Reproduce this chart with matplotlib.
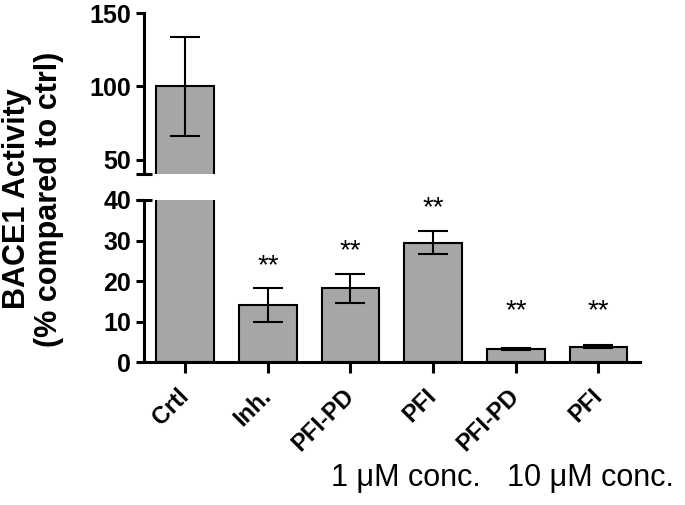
import matplotlib
matplotlib.use("Agg")
import matplotlib.pyplot as plt
import numpy as np

# data
groups = ["Crtl", "Inh.", "PFI-PD", "PFI", "PFI-PD", "PFI"]
activity = [100.0, 14.1, 18.2, 29.5, 3.2, 3.8]
sem = [34.0, 4.1, 3.6, 2.9, 0.25, 0.4]
significant = [False, True, True, True, True, True]
conc_labels = ["1 μM conc.", "10 μM conc."]

plt.rcParams["font.family"] = ["Liberation Sans", "DejaVu Sans"]
plt.rcParams["font.weight"] = "bold"

fig = plt.figure(figsize=(6.85, 5.05), dpi=100)
ax_top = fig.add_axes([0.210, 0.655, 0.724, 0.319])
ax_bot = fig.add_axes([0.210, 0.283, 0.724, 0.321])

x = np.arange(len(groups))
bar_kw = dict(width=0.7, color="#a6a6a6", edgecolor="black", linewidth=1.5, zorder=2)
err_kw = dict(fmt="none", ecolor="black", elinewidth=1.5, capsize=10.5, capthick=1.5, zorder=3)

for ax in (ax_top, ax_bot):
    ax.bar(x, activity, **bar_kw)
    ax.errorbar(x, activity, yerr=sem, **err_kw)
    ax.set_xlim(-0.5, 5.5)
    for s in ("top", "right"):
        ax.spines[s].set_visible(False)
    ax.spines["left"].set_linewidth(2.2)
    ax.spines["bottom"].set_linewidth(2.2)
    ax.tick_params(axis="y", direction="out", length=6, width=2.2, labelsize=18, pad=3)

# upper segment
ax_top.set_ylim(40, 150)
ax_top.set_yticks([50, 100, 150])
ax_top.spines["bottom"].set_visible(False)
ax_top.set_xticks([])
ax_top.plot([0], [40], transform=ax_top.get_yaxis_transform(), marker="_",
            ms=12, mew=2.2, color="black", clip_on=False)

# lower segment
ax_bot.set_ylim(0, 40)
ax_bot.set_yticks([0, 10, 20, 30, 40])
ax_bot.plot([0], [40], transform=ax_bot.get_yaxis_transform(), marker="_",
            ms=12, mew=2.2, color="black", clip_on=False)
ax_bot.set_xticks(x)
ax_bot.set_xticklabels(groups, rotation=45, ha="right", va="center",
                       rotation_mode="anchor", fontsize=17, fontweight="bold")
ax_bot.tick_params(axis="x", direction="out", length=8, width=2.2, pad=14)

for xi, m, e, sig in zip(x, activity, sem, significant):
    if sig:
        ax_bot.text(xi, max(m + e + 5.5, 12.5), "**", ha="center", va="center",
                    fontsize=20, fontweight="normal")

for lab in ax_top.get_yticklabels() + ax_bot.get_yticklabels():
    lab.set_fontweight("bold")

fig.text(0.048, 0.606, "BACE1 Activity\n(% compared to ctrl)", rotation=90,
         ha="center", va="center", fontsize=22, fontweight="bold",
         multialignment="center", linespacing=1.1)

fig.text(0.593, 0.037, conc_labels[0], ha="center", va="baseline",
         fontsize=22, fontweight="normal")
fig.text(0.862, 0.037, conc_labels[1], ha="center", va="baseline",
         fontsize=22, fontweight="normal")

fig.savefig("out.png", dpi=100)
